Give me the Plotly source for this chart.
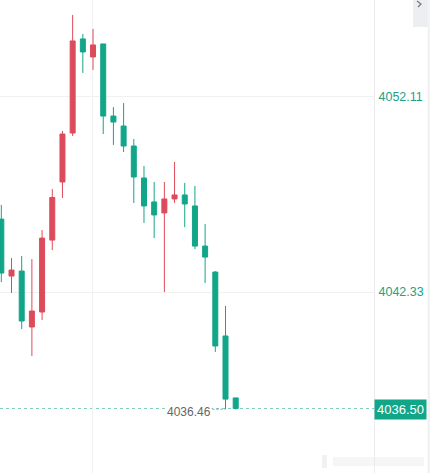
import plotly.graph_objects as go

# ---- data ----
idx = list(range(24))
open_ = [4045.98, 4043.13, 4043.38, 4040.58, 4041.33, 4044.93, 4047.84, 4050.29,
         4055.00, 4054.10, 4054.75, 4051.14, 4050.64, 4049.64, 4048.04, 4046.84,
         4046.29, 4046.99, 4047.19, 4046.64, 4044.63, 4043.33, 4040.13, 4037.03]
high = [4046.69, 4044.03, 4044.13, 4043.98, 4045.43, 4047.49, 4050.39, 4056.20,
        4055.25, 4055.50, 4054.75, 4051.59, 4051.79, 4049.99, 4048.64, 4047.84,
        4047.84, 4048.84, 4047.79, 4047.64, 4045.73, 4043.38, 4041.63, 4037.03]
low = [4042.83, 4042.28, 4040.48, 4039.13, 4040.93, 4044.43, 4047.04, 4050.14,
       4053.30, 4053.45, 4050.24, 4049.69, 4049.34, 4046.79, 4045.79, 4045.03,
       4042.33, 4046.79, 4045.58, 4044.48, 4042.78, 4039.33, 4036.46, 4036.45]
close = [4043.28, 4043.43, 4040.88, 4041.38, 4045.03, 4047.06, 4050.24, 4054.90,
         4054.35, 4054.70, 4051.14, 4050.84, 4049.64, 4048.09, 4046.64, 4046.19,
         4046.99, 4047.19, 4046.74, 4044.63, 4044.08, 4039.63, 4036.97, 4036.50]

tick_vals = [4042.33, 4052.11]
tick_text = ["4042.33", "4052.11"]
last_price = 4036.50
last_label = "4036.50"
low_price = 4036.46
low_label = "4036.46"

RED = "#dd4b5b"
TEAL = "#12a689"

fig = go.Figure()
fig.add_trace(go.Candlestick(
    x=idx, open=open_, high=high, low=low, close=close,
    increasing=dict(line=dict(color=RED, width=1), fillcolor=RED),
    decreasing=dict(line=dict(color=TEAL, width=1), fillcolor=TEAL),
    whiskerwidth=0, hoverinfo="skip", showlegend=False,
))

# x range so that candle spacing ~10.19 px across a 374 px plot
x0 = -0.13
x1 = x0 + 374 / 10.19

shapes = [
    # last-price dashed line
    dict(type="line", xref="x domain", yref="y", x0=0, x1=1, y0=last_price, y1=last_price,
         line=dict(color="rgba(18,166,137,0.55)", width=1, dash="3px,3px"), layer="below"),
    # dotted connector from low label to low point
    dict(type="line", xref="x", yref="y", x0=20.72, x1=21.95, y0=low_price, y1=low_price,
         line=dict(color="#9a9a9a", width=1, dash="2px,2px")),
    # top-right UI tab
    dict(type="rect", xref="paper", yref="paper", x0=413/374, x1=430/374, y0=1 - 27/473, y1=1,
         fillcolor="#eceef2", line=dict(width=0)),
    dict(type="rect", xref="paper", yref="paper", x0=427.5/374, x1=430/374, y0=0, y1=1,
         fillcolor="#f1f2f4", line=dict(width=0)),
    dict(type="path", xref="paper", yref="paper",
         path=f"M {417/374},{1-1/473} L {421/374},{1-4/473} L {418/374},{1-7/473}",
         line=dict(color="#777", width=1.2)),
    # faint blurred watermark
    dict(type="rect", xref="paper", yref="paper", x0=322/374, x1=327/374, y0=5/473, y1=18/473,
         fillcolor="rgba(225,225,225,0.45)", line=dict(width=0)),
    dict(type="rect", xref="paper", yref="paper", x0=333/374, x1=424/374, y0=7/473, y1=16/473,
         fillcolor="rgba(232,232,232,0.4)", line=dict(width=0)),
]

annotations = [
    dict(x=1, xref="x domain", y=last_price, yref="y", text=last_label, showarrow=False,
         xanchor="left", yanchor="middle", bgcolor=TEAL, borderpad=2, yshift=-1,
         font=dict(color="white", size=13, family="Liberation Sans, Arial"),
         xshift=0),
    dict(x=20.72, xref="x", y=low_price, yref="y", text=low_label, showarrow=False,
         xanchor="right", yanchor="middle", yshift=-3, bgcolor="white", borderpad=0,
         font=dict(color="#666666", size=12, family="Liberation Sans, Arial")),
]

fig.update_layout(
    width=430, height=473,
    margin=dict(l=0, r=56, t=0, b=0),
    paper_bgcolor="white", plot_bgcolor="white",
    shapes=shapes, annotations=annotations,
    hovermode=False,
    xaxis=dict(range=[x0, x1], rangeslider=dict(visible=False), showticklabels=False,
               tickvals=[8.97], showgrid=True, gridcolor="#f1f1f1", gridwidth=1,
               zeroline=False, showline=False, ticks=""),
    yaxis=dict(range=[4033.27, 4056.95], side="right", tickvals=tick_vals, ticktext=tick_text,
               showgrid=True, gridcolor="#f1f1f1", gridwidth=1, zeroline=False,
               showline=True, linecolor="#ececec", linewidth=1, ticks="",
               tickfont=dict(color="#26a085", size=12.5, family="Liberation Sans, Arial"),
               ticklabelstandoff=1),
)

fig.write_html(
    "out.html",
    config={"displayModeBar": False},
    post_script="document.body.style.margin='0';document.body.style.overflow='hidden';",
)
